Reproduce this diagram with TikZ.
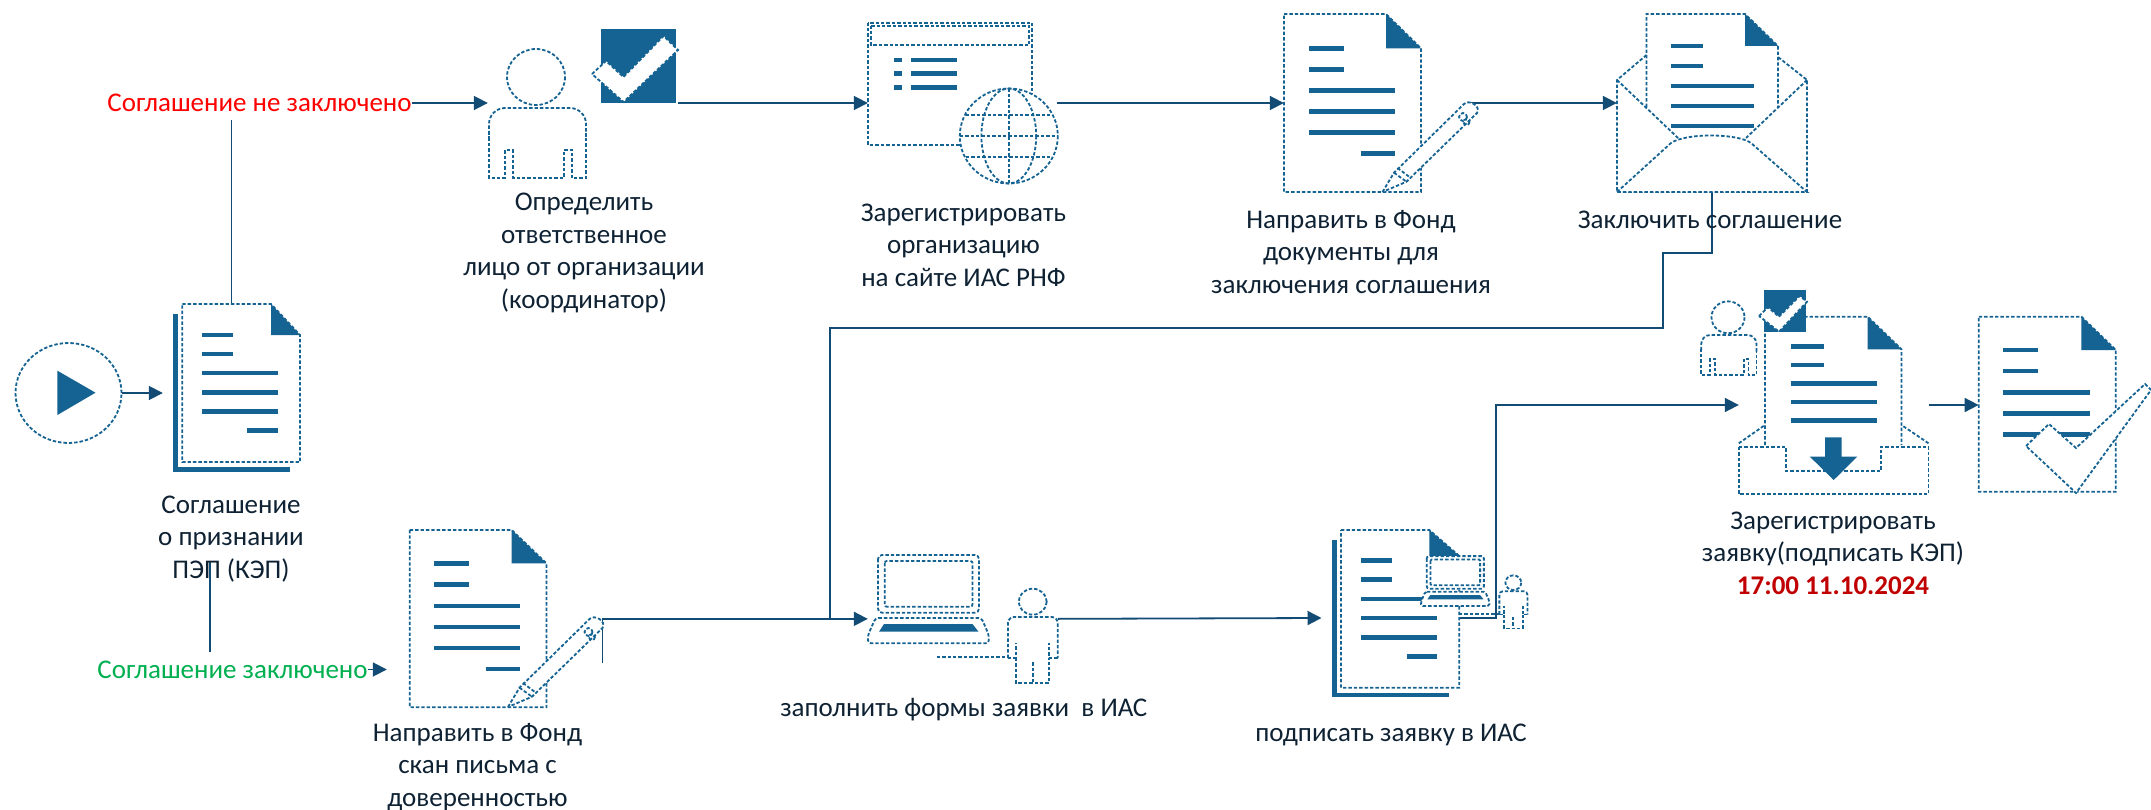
\documentclass[tikz,border=0pt]{standalone}
\usepackage{fontspec}
\setmainfont{Carlito}
\usetikzlibrary{arrows.meta,fit,shapes.geometric}
\definecolor{iconblue}{HTML}{156392}
\definecolor{linkblue}{HTML}{124B73}
\definecolor{labeltext}{HTML}{0E2233}
\definecolor{deadline}{HTML}{C00000}
\definecolor{signedgreen}{HTML}{00B050}
\tikzset{
  dotline/.style={draw=iconblue,line width=1.8pt,dash pattern=on 3.4pt off 2pt,fill=white},
  textbar/.style={draw=iconblue,line width=4.6pt},
  solidicon/.style={fill=iconblue},
  wire/.style={draw=linkblue,line width=1.8pt},
  link/.style={wire,-{Triangle[length=14pt,width=14pt]}},
  caption/.style={font=\fontsize{27}{32.5}\selectfont,text=labeltext,align=center,inner sep=0pt},
  state/.style={font=\fontsize{27}{32.5}\selectfont,inner sep=0pt,minimum height=34pt}
}
\newcommand{\hotbox}[5]{\node[fit={(#2,#3) (#4,#5)},inner sep=0pt] (#1) {};}
\newcommand{\docpage}[6]{
  \draw[dotline] (#1,#2) -- (#5,#2) -- (#3,#6) -- (#3,#4) -- (#1,#4) -- cycle;
  \fill[solidicon] (#5,#2) -- (#3,#6) -- (#5,#6) -- cycle;
}
\newcommand{\barlines}[3]{\foreach \ly in {#3} \draw[textbar] (#1,\ly) -- (#2,\ly);}
\newcommand{\seated}[3]{
  \begin{scope}[shift={(#1,#2)},scale=#3]
  \draw[dotline] (0,0) ellipse (29 and 28);
  \draw[dotline,rounded corners=16pt*#3] (50,60) -- (50,31) -- (-47,31) -- (-47,60);
  \draw[dotline,fill=none] (-47,55) -- (-47,101) -- (-31,101) -- (-31,73) -- (-23,73) -- (-23,101)
    -- (28,101) -- (28,73) -- (36,73) -- (36,101) -- (50,101) -- (50,55);
  \end{scope}
}
\newcommand{\standing}[3]{
  \begin{scope}[shift={(#1,#2)},scale=#3]
  \draw[dotline] (0,0) ellipse (14 and 13);
  \draw[dotline,fill=none] (-96,55.6) -- (-24.7,55.6);
  \draw[dotline,rounded corners=6pt*#3] (-24.7,56.3) -- (-24.7,15.3) -- (25,15.3) -- (25,56.3);
  \draw[dotline,fill=none] (25,56.3) -- (16.5,56.3) -- (16.5,41.3);
  \draw[dotline,fill=none] (-24.7,56.3) -- (-16.7,56.3) -- (-16.7,41.3);
  \draw[dotline,fill=none] (-16.7,56.3) -- (-16.7,81) -- (16.5,81) -- (16.5,56.3);
  \draw[dotline,fill=none] (0,60.6) -- (0,81);
  \end{scope}
}
\newcommand{\laptopicon}[3]{
  \begin{scope}[shift={(#1,#2)},scale=#3]
  \draw[dotline,rounded corners=4pt*#3] (-50.5,-63) rectangle (50.5,-5.3);
  \draw[dotline,rounded corners=2pt*#3] (-43.8,-57) rectangle (43.9,-11.3);
  \draw[dotline,rounded corners=3pt*#3] (-53,0) -- (53,0) -- (60.3,17) -- (60.3,25.3) -- (-60.5,25.3) -- (-60.5,17) -- cycle;
  \fill[solidicon] (-44.5,6) -- (44,6) -- (50,13.7) -- (-49.5,13.7) -- cycle;
  \end{scope}
}
\newcommand{\pencilicon}[2]{
  \begin{scope}[shift={(#1,#2)}]
  \draw[dotline] (0,0) -- (11.5,-19.3) -- (81.5,-88) .. controls (86,-93) and (99,-86) .. (94.5,-79) -- (24,-10.3) -- cycle;
  \draw[dotline,fill=none] (11.5,-19.3) -- (24,-10.3);
  \draw[dotline,fill=none] (15,-24) -- (27,-15);
  \draw[dotline,fill=none] (80.5,-75) circle (4);
  \draw[dotline,fill=none] (84,-70) circle (3);
  \end{scope}
}
\begin{document}
\begin{tikzpicture}[x=1pt,y=-1pt]
\useasboundingbox (0,0) rectangle (2151,810);
\node[dotline,ellipse,minimum width=106pt,minimum height=100pt,inner sep=0pt] (start) at (68.5,393) {};
\hotbox{agree}{163}{304}{300}{482}
\hotbox{person}{488}{28}{678}{178}
\hotbox{browser}{868}{22}{1056.6}{184}
\hotbox{package}{1284}{14}{1468.6}{192}
\hotbox{envelope}{1617}{14}{1807}{192}
\hotbox{letter}{387}{530}{602.5}{707}
\hotbox{laptop}{868}{555}{1057.7}{682.7}
\hotbox{signdoc}{1321.7}{530}{1458.3}{706}
\hotbox{regdoc}{1739}{290}{1928.5}{520}
\hotbox{donedoc}{1978.8}{316.7}{2151}{493.3}
\coordinate (branch) at (210,562);
\coordinate (stub) at (602.5,663);
\coordinate (bendA) at (1663,253);
\coordinate (bendB) at (830,328);
\coordinate (bendC) at (1496,405);
\node[state,text=red] (notsigned) at (259.5,103) {Соглашение не заключено};
\node[state,text=signedgreen] (signed) at (232.5,669.5) {Соглашение заключено};
\draw[link] (start.east) -- (agree.west);
\draw[wire] (agree.north) -- (agree.north |- notsigned.south);
\draw[wire] (branch) -- (branch |- signed.north);
\draw[link] (notsigned.east) -- (person.west);
\draw[link] (signed.east) -- (letter.west |- signed.east);
\draw[link] (person.east) -- (browser.west);
\draw[link] (browser.east) -- (package.west);
\draw[link] (package.east) -- (envelope.west);
\draw[wire] (envelope.south) |- (bendA) |- (bendB) -- (bendB |- laptop.west);
\draw[link] (stub) |- (laptop.west);
\draw[link] (laptop.east) -- (signdoc.west);
\draw[link] (signdoc.east) -| (bendC) -- (regdoc.west);
\draw[link] (regdoc.east) -- (donedoc.west);

\fill[solidicon] (57.4,370.7) -- (95.5,392.7) -- (57.4,415) -- cycle;

\fill[solidicon] (173,314) rectangle (177.7,471.7);
\fill[solidicon] (173,467) rectangle (290,471.7);
\docpage{182.3}{304}{300}{462}{271}{335}
\barlines{202}{232.8}{335,354}
\barlines{202}{277.8}{373,392.7,411.7}
\barlines{247}{277.8}{430.7}

\seated{536}{77}{1}
\fill[solidicon] (601,29) rectangle (676,103);
\draw[dotline] (592,74) -- (606,61) -- (623.5,77) -- (663.5,36) -- (678,50) -- (623.5,102) -- cycle;

\draw[dotline] (868,22.7) rectangle (1032,145);
\draw[dotline] (871,25.7) rectangle (1029,45);
\fill[solidicon] (894,57.7) rectangle (901.6,62.3);
\fill[solidicon] (894,71.4) rectangle (901.6,76);
\fill[solidicon] (894,85) rectangle (901.6,89.6);
\barlines{911}{957}{60,73.7,87.3}
\draw[dotline] (1008.8,136) ellipse (49 and 47.5);
\draw[dotline,fill=none] (1008.8,136) ellipse (27.4 and 47.5);
\draw[dotline,fill=none] (1008.8,88.5) -- (1008.8,183.5);
\draw[dotline,fill=none] (959.8,136) -- (1057.8,136);
\draw[dotline,fill=none] (966,115) -- (1051,115);
\draw[dotline,fill=none] (966,157) -- (1051,157);

\docpage{1284}{14}{1421}{192}{1386}{48.3}
\barlines{1309}{1344}{48.3,69.3}
\barlines{1309}{1395}{90.3,111.3,132.7}
\barlines{1361}{1395}{153.7}
\pencilicon{1382.5}{192}

\draw[dotline] (1646.5,55) -- (1617,80) -- (1617,192) -- (1807,192) -- (1807,80) -- (1778,57);
\draw[dotline] (1646.5,107) -- (1646.5,14) -- (1745,14) -- (1778,46) -- (1778,107);
\fill[solidicon] (1745,14) -- (1778,46) -- (1745,46) -- cycle;
\barlines{1670.8}{1703}{46,66}
\barlines{1670.8}{1753.7}{86,106,126}
\draw[dotline,fill=none] (1617,80) -- (1678,138);
\draw[dotline,fill=none] (1807,80) -- (1746,138);
\draw[dotline] (1617,192) -- (1671,143) .. controls (1685,133) and (1737,133) .. (1751,143) -- (1807,192) -- cycle;

\docpage{409.7}{530}{546.4}{707.3}{511.7}{563.3}
\barlines{434}{469}{563.3,584.7}
\barlines{434}{520}{606,627,648}
\barlines{485.7}{520}{669}
\pencilicon{508}{707}

\laptopicon{928.5}{618}{1}
\standing{1032.7}{601.7}{1}

\fill[solidicon] (1332,540) rectangle (1336.7,697);
\fill[solidicon] (1332,692.5) rectangle (1449,697);
\docpage{1341}{530}{1459.3}{687.7}{1429.3}{556}
\barlines{1361}{1391.7}{560.3,579.7}
\barlines{1361}{1436.7}{599,618,637.3}
\barlines{1406.7}{1436.7}{656.7}
\laptopicon{1455.3}{591.7}{0.565}
\standing{1513.3}{582.7}{0.565}

\seated{1728}{317.3}{0.57}
\draw[dotline] (1765,445) -- (1765,316.7) -- (1867.7,316.7) -- (1901.5,349.3) -- (1901.5,445);
\fill[solidicon] (1867.7,316.7) -- (1901.5,349.3) -- (1867.7,349.3) -- cycle;
\barlines{1790.8}{1824}{346.3,365}
\barlines{1790.8}{1876.5}{383.3,402,420.3}
\draw[dotline,fill=none] (1738.8,443.3) -- (1765,425);
\draw[dotline,fill=none] (1928.5,443.3) -- (1901.5,425);
\draw[dotline] (1738.8,446.7) -- (1786,446.7) -- (1786,470.7) -- (1881,470.7) -- (1881,446.7) -- (1928.5,446.7) -- (1928.5,494) -- (1738.8,494) -- cycle;
\fill[solidicon] (1825,437.3) -- (1841.7,437.3) -- (1841.7,456.7) -- (1857.2,456.7) -- (1833.7,480) -- (1809.8,456.7) -- (1825,456.7) -- cycle;
\fill[solidicon] (1764,290) rectangle (1806,332);
\draw[dotline] (1759,316) -- (1768,307.3) -- (1779,316.7) -- (1799.6,296) -- (1807,301.7) -- (1779,331.7) -- cycle;

\docpage{1978.8}{316.7}{2115.8}{491.7}{2081.4}{350}
\barlines{2003}{2038}{350,371}
\barlines{2003}{2090}{392.3,413.3,434.3}
\draw[dotline] (2026,446) -- (2049,424) -- (2076,448) -- (2145,384) -- (2151,390) -- (2076,493) -- cycle;

\node[caption] (agreelabel) at (231,539) {Соглашение\\о признании\\ПЭП (КЭП)};
\node[caption] (personlabel) at (584,253) {Определить\\ответственное\\лицо от организации\\(координатор)};
\node[caption] (browserlabel) at (963.5,245) {Зарегистрировать\\организацию\\на сайте ИАС РНФ};
\node[caption] (packagelabel) at (1351,252) {Направить в Фонд\\документы для\\заключения соглашения};
\node[caption] (envelopelabel) at (1710,220) {Заключить соглашение};
\node[caption] (letterlabel) at (477.5,767) {Направить в Фонд\\скан письма с\\доверенностью};
\node[caption] (laptoplabel) at (963.7,710) {заполнить формы заявки\ \ в ИАС};
\node[caption] (signlabel) at (1391,735) {подписать заявку в ИАС};
\node[caption] (reglabel) at (1833,553) {Зарегистрировать\\заявку(подписать КЭП)\\\textcolor{deadline}{\bfseries 17:00 11.10.2024}};
\end{tikzpicture}
\end{document}
